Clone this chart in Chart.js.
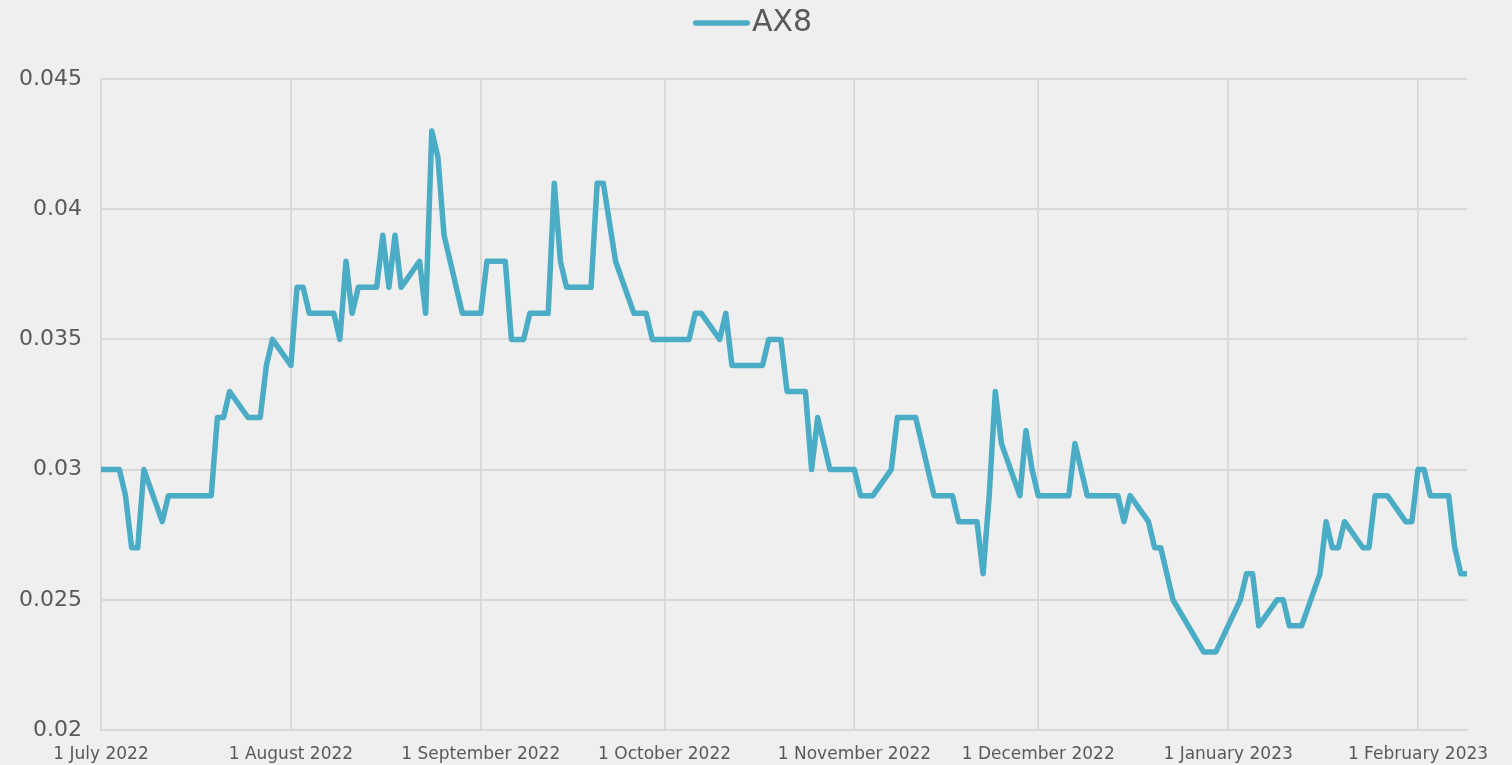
<!DOCTYPE html>
<html>
<head>
<meta charset="utf-8">
<script src="https://cdn.jsdelivr.net/npm/chart.js@4.4.1/dist/chart.umd.min.js"></script>
<style>
  html, body { margin: 0; padding: 0; background: #efefef; }
  #wrap { width: 1512px; height: 765px; }
</style>
</head>
<body>
<div id="wrap"><canvas id="chart" width="1512" height="765"></canvas></div>
<script>
// ---- data ----
const seriesName = "AX8";

const dates = [
  "2022-07-01", "2022-07-04", "2022-07-05", "2022-07-06", "2022-07-07", "2022-07-08",
  "2022-07-11", "2022-07-12", "2022-07-13", "2022-07-14", "2022-07-15",
  "2022-07-18", "2022-07-19", "2022-07-20", "2022-07-21", "2022-07-22",
  "2022-07-25", "2022-07-26", "2022-07-27", "2022-07-28", "2022-07-29",
  "2022-08-01", "2022-08-02", "2022-08-03", "2022-08-04", "2022-08-05",
  "2022-08-08", "2022-08-09", "2022-08-10", "2022-08-11", "2022-08-12",
  "2022-08-15", "2022-08-16", "2022-08-17", "2022-08-18", "2022-08-19",
  "2022-08-22", "2022-08-23", "2022-08-24", "2022-08-25", "2022-08-26",
  "2022-08-29", "2022-08-30", "2022-08-31", "2022-09-01", "2022-09-02",
  "2022-09-05", "2022-09-06", "2022-09-07", "2022-09-08", "2022-09-09",
  "2022-09-12", "2022-09-13", "2022-09-14", "2022-09-15", "2022-09-16",
  "2022-09-19", "2022-09-20", "2022-09-21", "2022-09-23",
  "2022-09-26", "2022-09-27", "2022-09-28", "2022-09-29", "2022-09-30",
  "2022-10-03", "2022-10-04", "2022-10-05", "2022-10-06", "2022-10-07",
  "2022-10-10", "2022-10-11", "2022-10-12", "2022-10-13", "2022-10-14",
  "2022-10-17", "2022-10-18", "2022-10-19", "2022-10-20", "2022-10-21",
  "2022-10-24", "2022-10-25", "2022-10-26", "2022-10-27", "2022-10-28",
  "2022-10-31", "2022-11-01", "2022-11-02", "2022-11-03", "2022-11-04",
  "2022-11-07", "2022-11-08", "2022-11-09", "2022-11-10", "2022-11-11",
  "2022-11-14", "2022-11-15", "2022-11-16", "2022-11-17", "2022-11-18",
  "2022-11-21", "2022-11-22", "2022-11-23", "2022-11-24", "2022-11-25",
  "2022-11-28", "2022-11-29", "2022-11-30", "2022-12-01", "2022-12-02",
  "2022-12-05", "2022-12-06", "2022-12-07", "2022-12-08", "2022-12-09",
  "2022-12-12", "2022-12-13", "2022-12-14", "2022-12-15", "2022-12-16",
  "2022-12-19", "2022-12-20", "2022-12-21", "2022-12-22", "2022-12-23",
  "2022-12-28", "2022-12-29", "2022-12-30",
  "2023-01-03", "2023-01-04", "2023-01-05", "2023-01-06",
  "2023-01-09", "2023-01-10", "2023-01-11", "2023-01-12", "2023-01-13",
  "2023-01-16", "2023-01-17", "2023-01-18", "2023-01-19", "2023-01-20",
  "2023-01-23", "2023-01-24", "2023-01-25", "2023-01-27",
  "2023-01-30", "2023-01-31", "2023-02-01", "2023-02-02", "2023-02-03",
  "2023-02-06", "2023-02-07", "2023-02-08", "2023-02-09"
];

const ax8 = [
  0.030, 0.030, 0.029, 0.027, 0.027, 0.030,
  0.028, 0.029, 0.029, 0.029, 0.029,
  0.029, 0.029, 0.032, 0.032, 0.033,
  0.032, 0.032, 0.032, 0.034, 0.035,
  0.034, 0.037, 0.037, 0.036, 0.036,
  0.036, 0.035, 0.038, 0.036, 0.037,
  0.037, 0.039, 0.037, 0.039, 0.037,
  0.038, 0.036, 0.043, 0.042, 0.039,
  0.036, 0.036, 0.036, 0.036, 0.038,
  0.038, 0.035, 0.035, 0.035, 0.036,
  0.036, 0.041, 0.038, 0.037, 0.037,
  0.037, 0.041, 0.041, 0.038,
  0.036, 0.036, 0.036, 0.035, 0.035,
  0.035, 0.035, 0.035, 0.036, 0.036,
  0.035, 0.036, 0.034, 0.034, 0.034,
  0.034, 0.035, 0.035, 0.035, 0.033,
  0.033, 0.030, 0.032, 0.031, 0.030,
  0.030, 0.030, 0.029, 0.029, 0.029,
  0.030, 0.032, 0.032, 0.032, 0.032,
  0.029, 0.029, 0.029, 0.029, 0.028,
  0.028, 0.026, 0.029, 0.033, 0.031,
  0.029, 0.0315, 0.030, 0.029, 0.029,
  0.029, 0.029, 0.031, 0.030, 0.029,
  0.029, 0.029, 0.029, 0.028, 0.029,
  0.028, 0.027, 0.027, 0.026, 0.025,
  0.023, 0.023, 0.023,
  0.025, 0.026, 0.026, 0.024,
  0.025, 0.025, 0.024, 0.024, 0.024,
  0.026, 0.028, 0.027, 0.027, 0.028,
  0.027, 0.027, 0.029, 0.029,
  0.028, 0.028, 0.030, 0.030, 0.029,
  0.029, 0.027, 0.026, 0.026
];

const tickDates = [
  "2022-07-01", "2022-08-01", "2022-09-01", "2022-10-01",
  "2022-11-01", "2022-12-01", "2023-01-01", "2023-02-01"
];
const tickLabels = [
  "1 July 2022", "1 August 2022", "1 September 2022", "1 October 2022",
  "1 November 2022", "1 December 2022", "1 January 2023", "1 February 2023"
];
const yTicks = [0.02, 0.025, 0.03, 0.035, 0.04, 0.045];

// ---- helpers ----
const baseDay = Date.UTC(2022, 6, 1);
function dayNum(s) {
  const [y, m, d] = s.split("-").map(Number);
  return Math.round((Date.UTC(y, m - 1, d) - baseDay) / 86400000);
}

const points = dates.map((d, i) => ({ x: dayNum(d), y: ax8[i] }));
const tickDays = tickDates.map(dayNum);

const textColor = "#595959";
const gridColor = "#d9d9d9";
const lineColor = "#4bacc6";
const fontFamily = "'DejaVu Sans', sans-serif";
const lineWidth = 5.5;

// legend marker: a short line at the right end of a wider swatch,
// so it sits close to the label like the original
const legendSwatch = document.createElement("canvas");
legendSwatch.width = 108;
legendSwatch.height = 10;
(function () {
  const c = legendSwatch.getContext("2d");
  c.strokeStyle = lineColor;
  c.lineWidth = lineWidth;
  c.lineCap = "round";
  c.beginPath();
  c.moveTo(51 + lineWidth / 2, 5);
  c.lineTo(108 - lineWidth / 2, 5);
  c.stroke();
})();

// extra room under the legend
const legendGap = {
  id: "legendGap",
  beforeInit(chart) {
    const fit = chart.legend.fit;
    chart.legend.fit = function () {
      fit.bind(chart.legend)();
      this.height += 31;
    };
  }
};

new Chart(document.getElementById("chart"), {
  type: "line",
  data: {
    datasets: [{
      label: seriesName,
      data: points,
      borderColor: lineColor,
      backgroundColor: lineColor,
      borderWidth: lineWidth,
      borderJoinStyle: "round",
      borderCapStyle: "round",
      pointRadius: 0,
      tension: 0
    }]
  },
  plugins: [legendGap],
  options: {
    responsive: false,
    animation: false,
    layout: { padding: { top: 2, right: 45, left: 0, bottom: 0 } },
    plugins: {
      legend: {
        position: "top",
        labels: {
          usePointStyle: true,
          pointStyle: legendSwatch,
          pointStyleWidth: 82,
          boxHeight: 30,
          color: textColor,
          font: { family: fontFamily, size: 30 },
          padding: 6
        }
      },
      tooltip: { enabled: false }
    },
    scales: {
      x: {
        type: "linear",
        min: 0,
        max: dayNum(dates[dates.length - 1]),
        afterBuildTicks: (scale) => {
          scale.ticks = tickDays.map(v => ({ value: v }));
        },
        afterFit: (scale) => { scale.height = 35; },
        ticks: {
          autoSkip: false,
          maxRotation: 0,
          padding: 14,
          color: textColor,
          font: { family: fontFamily, size: 17 },
          callback: (v) => tickLabels[tickDays.indexOf(v)]
        },
        grid: { color: gridColor, lineWidth: 2, drawTicks: false },
        border: { color: gridColor, width: 2 }
      },
      y: {
        min: 0.02,
        max: 0.045,
        afterBuildTicks: (scale) => {
          scale.ticks = yTicks.map(v => ({ value: v }));
        },
        afterFit: (scale) => { scale.width = 101; },
        ticks: {
          padding: 19,
          color: textColor,
          font: { family: fontFamily, size: 22 },
          callback: (v) => String(Number(v.toFixed(4)))
        },
        grid: { color: gridColor, lineWidth: 2, drawTicks: false },
        border: { color: gridColor, width: 2 }
      }
    }
  }
});
</script>
</body>
</html>
